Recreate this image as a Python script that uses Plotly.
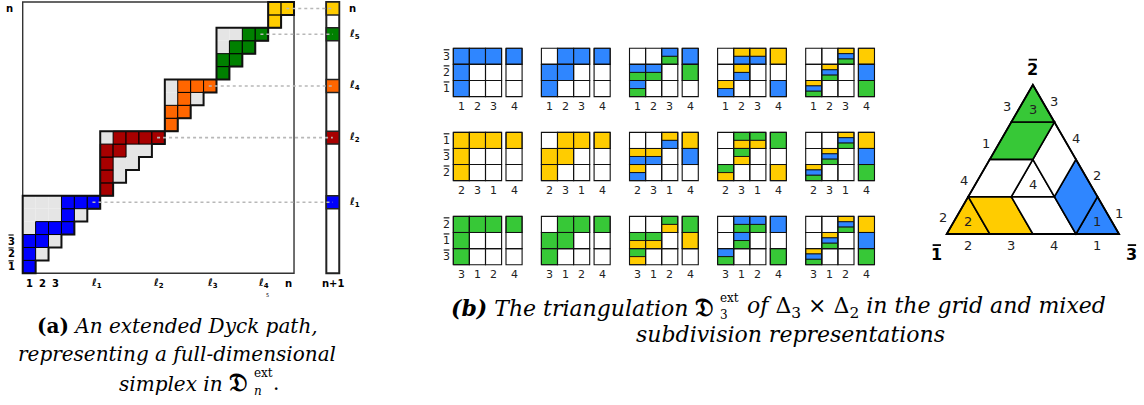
import math
import plotly.graph_objects as go

W, H = 1144, 405

# ---------------- Panel (a) data: extended Dyck path ----------------
A_N = 21
A_BLOCK_START = [0, 6, 11, 15, 19]
A_BLOCK_SIZE = [6, 5, 4, 4, 2]
A_BLOCK_COLOR = ["#0000ff", "#a80000", "#ff6600", "#008000", "#ffcc00"]
A_PATH_COLS = [[0, 0, 0, 1, 1, 2, 3, 3, 3, 4, 5],
               [6, 6, 6, 6, 7, 7, 8, 9, 10],
               [11, 11, 12, 12, 12, 13, 14],
               [15, 15, 16, 16, 17, 17, 18],
               [19, 19, 20]]
A_PATH_ROWS = [[0, 1, 2, 2, 3, 3, 3, 4, 5, 5, 5],
               [6, 7, 8, 9, 9, 10, 10, 10, 10],
               [11, 12, 12, 13, 14, 14, 14],
               [15, 16, 16, 17, 17, 18, 18],
               [19, 20, 20]]
A_XLAB_POS = [0.5, 1.5, 2.5, 5.7, 10.5, 14.7, 18.6, 20.55]
A_XLAB_TEXT = ["1", "2", "3", "ℓ<sub>1</sub>", "ℓ<sub>2</sub>", "ℓ<sub>3</sub>", "ℓ<sub>4</sub>", "n"]
A_YLAB_POS = [0.5, 1.5, 2.5]
A_YLAB_TEXT = ["1", "2", "3"]          # drawn with a bar on top
A_TOP_LABEL = "n"
A_RLAB_POS = [20.5, 18.5, 14.5, 10.5, 5.5]
A_RLAB_TEXT = ["n", "ℓ<sub>5</sub>", "ℓ<sub>4</sub>", "ℓ<sub>2</sub>", "ℓ<sub>1</sub>"]
A_EXTRA_COL_LABEL = "n+1"

# ---------------- Panel (b) data: grids ----------------
COLORS = {"B": "#2f86ff", "Y": "#ffcc00", "G": "#37c837"}
GRID_ROW_LABELS = [["3", "2", "1"],    # barred labels, top -> bottom
                   ["1", "3", "2"],
                   ["2", "1", "3"]]
GRID_COL_LABELS = [["1", "2", "3", "4"],
                   ["2", "3", "1", "4"],
                   ["3", "1", "2", "4"]]
# each grid: 3 rows (top->bottom) x 4 columns; cell = stripes top->bottom
GRIDS = [
    [  # row 1 (blue)
        [["B", "B", "B", "B"], ["B", "", "", ""], ["B", "", "", ""]],
        [["", "B", "B", "B"], ["B", "B", "", ""], ["B", "", "", ""]],
        [["", "", "BG", "B"], ["BG", "BG", "", "G"], ["BG", "", "", ""]],
        [["", "YB", "YB", "Y"], ["", "YB", "", ""], ["YB", "", "", "B"]],
        [["", "", "YBG", "Y"], ["", "YBG", "", "B"], ["YBG", "", "", "G"]],
    ],
    [  # row 2 (yellow)
        [["Y", "Y", "Y", "Y"], ["Y", "", "", ""], ["Y", "", "", ""]],
        [["", "Y", "Y", "Y"], ["Y", "Y", "", ""], ["Y", "", "", ""]],
        [["", "", "YB", "Y"], ["YB", "YB", "", "B"], ["YB", "", "", ""]],
        [["", "GY", "GY", "G"], ["", "GY", "", ""], ["GY", "", "", "Y"]],
        [["", "", "YBG", "Y"], ["", "YBG", "", "B"], ["YBG", "", "", "G"]],
    ],
    [  # row 3 (green)
        [["G", "G", "G", "G"], ["G", "", "", ""], ["G", "", "", ""]],
        [["", "G", "G", "G"], ["G", "G", "", ""], ["G", "", "", ""]],
        [["", "", "GY", "G"], ["GY", "GY", "", "Y"], ["GY", "", "", ""]],
        [["", "BG", "BG", "B"], ["", "BG", "", ""], ["BG", "", "", "G"]],
        [["", "", "YBG", "Y"], ["", "YBG", "", "B"], ["YBG", "", "", "G"]],
    ],
]

# ---------------- Triangle (mixed subdivision) data ----------------
TRI_TILES = [
    ([(0, 0), (1, 0), (0, 1)], "Y", "2"),
    ([(1, 0), (2, 0), (1, 1), (0, 1)], "Y", ""),
    ([(2, 0), (3, 0), (2, 1), (1, 1)], "", ""),
    ([(3, 0), (4, 0), (3, 1)], "B", "1"),
    ([(3, 0), (3, 1), (2, 2), (2, 1)], "B", ""),
    ([(1, 1), (2, 1), (1, 2)], "", "4"),
    ([(1, 2), (2, 1), (2, 2), (1, 3)], "", ""),
    ([(0, 1), (1, 1), (1, 2), (0, 2)], "", ""),
    ([(0, 2), (1, 2), (1, 3), (0, 3)], "G", ""),
    ([(0, 3), (1, 3), (0, 4)], "G", "3"),
]
TRI_BASE_LABELS = ["2", "3", "4", "1"]    # left -> right
TRI_LEFT_LABELS = ["2", "4", "1", "3"]    # bottom -> top
TRI_RIGHT_LABELS = ["3", "4", "2", "1"]   # top -> bottom
TRI_VERTEX_LABELS = ["1", "3", "2"]       # barred: bottom-left, bottom-right, apex

# ---------------- helpers ----------------
shapes = []
annos = []


def xrange_for(p0, s, P0, P1):
    return [(P0 - p0) / s, (P1 - p0) / s]


def yrange_for(p0, s, Ptop, Pbot):
    return [(p0 - Pbot) / s, (p0 - Ptop) / s]


def rect(ax, x0, y0, x1, y1, fill, lw=1.0, lc="black"):
    shapes.append(dict(type="rect", xref="x" + ax, yref="y" + ax, x0=x0, y0=y0, x1=x1, y1=y1,
                       fillcolor=fill, line=dict(width=lw, color=lc), layer="above"))


def poly(ax, pts, fill, lw=1.5, lc="black"):
    d = "M " + " L ".join(f"{x:.4f},{y:.4f}" for x, y in pts) + " Z"
    shapes.append(dict(type="path", xref="x" + ax, yref="y" + ax, path=d,
                       fillcolor=fill, line=dict(width=lw, color=lc), layer="above"))


def text(ax, x, y, t, size, bold=False, color="black", family="DejaVu Sans", xanchor="center"):
    annos.append(dict(xref="x" + ax, yref="y" + ax, x=x, y=y, text=t, showarrow=False,
                      xanchor=xanchor, yanchor="middle",
                      font=dict(size=size, color=color, family=family,
                                weight="bold" if bold else "normal")))


def barred(ax, x, y, t, size, scale, bold=False, color="black"):
    """digit with an overline bar; scale = pixels per data unit"""
    text(ax, x, y, t, size, bold=bold, color=color)
    up = 0.60 * size / scale
    hw = 0.26 * size / scale
    shapes.append(dict(type="line", xref="x" + ax, yref="y" + ax,
                       x0=x - hw, x1=x + hw, y0=y + up, y1=y + up,
                       line=dict(color=color, width=max(1.0, size / 9.0)), layer="above"))


def ptext(px, py, t, size, family="DejaVu Serif", xanchor="center"):
    annos.append(dict(xref="paper", yref="paper", x=px / W, y=1 - py / H, text=t, showarrow=False,
                      xanchor=xanchor, yanchor="middle", font=dict(size=size, family=family, color="black")))


# ---------------- Panel (a) drawing ----------------
AX_A = ""
A_P0X, A_P0Y, A_S = 22.7, 273.3, 12.92
rect(AX_A, 0, 0, A_N, A_N, "white", 1.4, "#333333")
for b in range(len(A_BLOCK_START)):
    s, n, col = A_BLOCK_START[b], A_BLOCK_SIZE[b], A_BLOCK_COLOR[b]
    path = set(zip(A_PATH_COLS[b], A_PATH_ROWS[b]))
    for c in range(s, s + n):
        for r in range(c, s + n):
            if (c, r) not in path:
                rect(AX_A, c, r, c + 1, r + 1, "#e5e5e5", 0)
    for c, r in zip(A_PATH_COLS[b], A_PATH_ROWS[b]):
        rect(AX_A, c, r, c + 1, r + 1, col, 1.0, "black")
    pts = [(s, s), (s, s + n), (s + n, s + n)]
    for k in range(n, 0, -1):
        pts.append((s + k, s + k - 1))
        pts.append((s + k - 1, s + k - 1))
    poly(AX_A, pts, "rgba(0,0,0,0)", 2.0, "#111111")
COLX0, COLX1 = 23.5, 24.5
rect(AX_A, COLX0, 0, COLX1, A_N, "white", 2.0, "#222222")
for b in range(len(A_BLOCK_START)):
    s, n, col = A_BLOCK_START[b], A_BLOCK_SIZE[b], A_BLOCK_COLOR[b]
    r = s + n - 1
    rect(AX_A, COLX0, r, COLX1, r + 1, col, 1.5, "#222222")
for b in range(len(A_BLOCK_START)):
    s, n = A_BLOCK_START[b], A_BLOCK_SIZE[b]
    r = s + n - 0.5
    shapes.append(dict(type="line", xref="x", yref="y", x0=s + n - 0.6, y0=r, x1=24.0, y1=r,
                       line=dict(color="#b8b8b8", width=1.6, dash="dot"), layer="above"))
for x, t in zip(A_XLAB_POS, A_XLAB_TEXT):
    text(AX_A, x, -0.8, t, 10, bold=True)
text(AX_A, 18.95, -1.65, "5", 5)
text(AX_A, 24.0, -0.8, A_EXTRA_COL_LABEL, 10, bold=True)
for y, t in zip(A_YLAB_POS, A_YLAB_TEXT):
    barred(AX_A, -0.9, y, t, 10, A_S, bold=True)
text(AX_A, -1.0, 20.5, A_TOP_LABEL, 10, bold=True)
for y, t in zip(A_RLAB_POS, A_RLAB_TEXT):
    text(AX_A, 25.1, y, t, 10, bold=True, xanchor="left")

# ---------------- Panel (b) drawing ----------------
AX_B = "2"
B_P0X, B_P0Y, B_S = 453.3, 48.3, 16.1
GDX, GDY, C4OFF = 5.472, 5.22, 3.273
for R in range(3):
    for C in range(5):
        ox, oy = C * GDX, -R * GDY
        g = GRIDS[R][C]
        for i in range(3):
            for j in range(4):
                x0 = ox + (j if j < 3 else C4OFF)
                top = oy - i
                cell = g[i][j]
                if cell:
                    k = len(cell)
                    for m, ch in enumerate(cell):
                        rect(AX_B, x0, top - (m + 1) / k, x0 + 1, top - m / k, COLORS[ch], 0.9, "#111111")
                rect(AX_B, x0, top - 1, x0 + 1, top, "rgba(0,0,0,0)", 1.1, "#111111")
        for j in range(4):
            x0 = ox + (j if j < 3 else C4OFF)
            text(AX_B, x0 + 0.5, oy - 3.62, GRID_COL_LABELS[R][j], 11, color="#222222")
        if C == 0:
            for i in range(3):
                barred(AX_B, ox - 0.42, oy - i - 0.5, GRID_ROW_LABELS[R][i], 11, B_S, color="#222222")

# ---------------- Triangle drawing ----------------
AX_T = "3"
T_P0X, T_P0Y, T_S = 946.7, 234.0, 43.08
SQ = math.sqrt(3) / 2


def cart(a, b):
    return (a + 0.5 * b, b * SQ)


for verts, colr, lab in TRI_TILES:
    pts = [cart(a, b) for a, b in verts]
    poly(AX_T, pts, COLORS[colr] if colr else "white", 1.6, "black")
    if lab:
        cx = sum(p[0] for p in pts) / len(pts)
        cy = sum(p[1] for p in pts) / len(pts)
        text(AX_T, cx, cy, lab, 13, color="#222222")
poly(AX_T, [cart(0, 0), cart(4, 0), cart(0, 4)], "rgba(0,0,0,0)", 1.8, "black")
for k, t in enumerate(TRI_BASE_LABELS):
    x, y = cart(k + 0.5, 0)
    text(AX_T, x, y - 0.27, t, 13, color="#222222")
for k, t in enumerate(TRI_LEFT_LABELS):
    x, y = cart(0, k + 0.5)
    text(AX_T, x - 0.34, y - 0.06, t, 13, color="#222222")
for k, t in enumerate(TRI_RIGHT_LABELS):
    x, y = cart(4 - (3.5 - k), 3.5 - k)
    text(AX_T, x + 0.24, y + 0.05, t, 13, color="#222222")
vx = [cart(0, 0), cart(4, 0), cart(0, 4)]
voff = [(-0.23, -0.48), (0.3, -0.48), (0.0, 0.36)]
for (x, y), (dx, dy), t in zip(vx, voff, TRI_VERTEX_LABELS):
    barred(AX_T, x + dx, y + dy, t, 16, T_S, bold=True)

# ---------------- captions ----------------
FRAK = '<span style="font-size:25px"><b>𝔇</b></span>'
CAP_A = 20
ptext(177, 326, "<b>(a)</b> <i>An extended Dyck path,</i>", CAP_A)
ptext(177, 354, "<i>representing a full-dimensional</i>", CAP_A)
ptext(250, 382, "<i>simplex in</i> " + FRAK, CAP_A, xanchor="right")
ptext(252, 373, "ext", 12, xanchor="left")
ptext(252, 391, "<i>n</i>", 12, xanchor="left")
ptext(271, 383, ".", CAP_A, xanchor="left")

CAP_B = 22
ptext(716, 307, "<b><i>(b)</i></b> <i>The triangulation</i> " + FRAK, CAP_B, xanchor="right")
ptext(718, 298, "ext", 12, xanchor="left")
ptext(718, 315, "3", 12, xanchor="left")
ptext(745, 307, "<i>of</i> Δ<sub>3</sub> × Δ<sub>2</sub> <i>in the grid and mixed</i>", CAP_B, xanchor="left")
ptext(790, 334, "<i>subdivision representations</i>", CAP_B)

# ---------------- layout ----------------
fig = go.Figure()
for xa, ya in (("x", "y"), ("x2", "y2"), ("x3", "y3")):
    fig.add_trace(go.Scatter(x=[1], y=[1], mode="markers", marker=dict(opacity=0), hoverinfo="skip",
                             showlegend=False, xaxis=xa, yaxis=ya))


def ax(domain, rng, anchor):
    return dict(domain=domain, range=rng, visible=False, fixedrange=True,
                showgrid=False, zeroline=False, anchor=anchor)


A_DOM_X, A_DOM_Y = (0, 360), (0, 300)
B_DOM_X, B_DOM_Y = (400, 900), (30, 290)
T_DOM_X, T_DOM_Y = (900, 1144), (30, 285)

fig.update_layout(
    width=W, height=H, margin=dict(l=0, r=0, t=0, b=0),
    paper_bgcolor="white", plot_bgcolor="rgba(0,0,0,0)", showlegend=False,
    xaxis=ax([A_DOM_X[0] / W, A_DOM_X[1] / W], xrange_for(A_P0X, A_S, *A_DOM_X), "y"),
    yaxis=ax([1 - A_DOM_Y[1] / H, 1 - A_DOM_Y[0] / H], yrange_for(A_P0Y, A_S, *A_DOM_Y), "x"),
    xaxis2=ax([B_DOM_X[0] / W, B_DOM_X[1] / W], xrange_for(B_P0X, B_S, *B_DOM_X), "y2"),
    yaxis2=ax([1 - B_DOM_Y[1] / H, 1 - B_DOM_Y[0] / H], yrange_for(B_P0Y, B_S, *B_DOM_Y), "x2"),
    xaxis3=ax([T_DOM_X[0] / W, T_DOM_X[1] / W], xrange_for(T_P0X, T_S, *T_DOM_X), "y3"),
    yaxis3=ax([1 - T_DOM_Y[1] / H, 1 - T_DOM_Y[0] / H], yrange_for(T_P0Y, T_S, *T_DOM_Y), "x3"),
    shapes=shapes, annotations=annos,
)
fig.write_html("out.html", config={"displayModeBar": False, "staticPlot": True},
               post_script="document.body.style.margin='0px';document.body.style.overflow='hidden';")
